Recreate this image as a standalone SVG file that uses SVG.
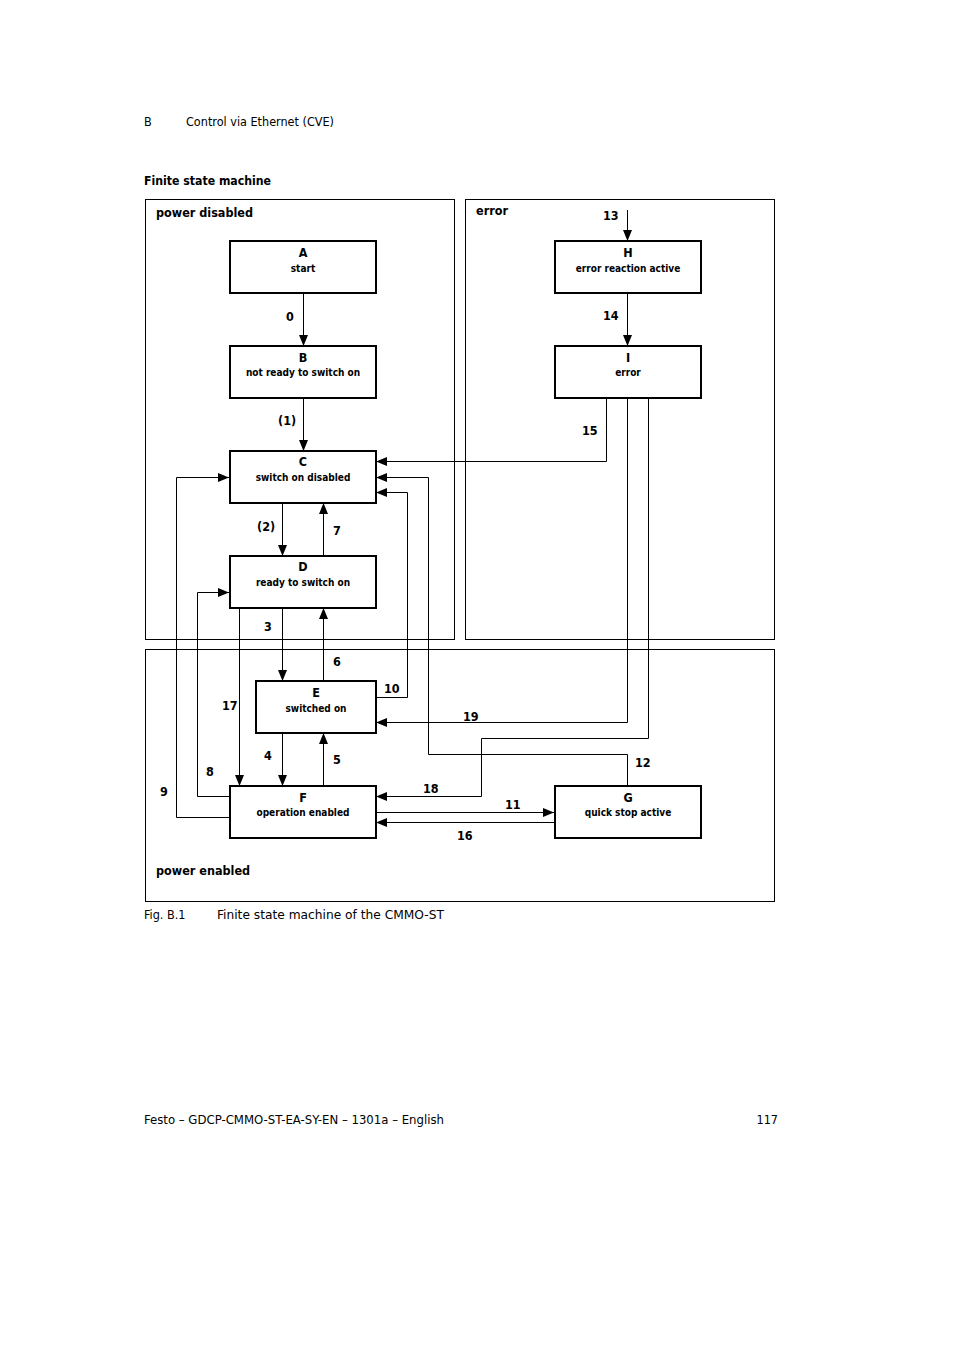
<svg xmlns="http://www.w3.org/2000/svg" width="954" height="1348" viewBox="0 0 954 1348">
<style>
text{font-family:"DejaVu Sans Condensed","Liberation Sans",sans-serif;fill:#000}
.h{font-size:12.5px}
.t{font-size:12.5px;font-weight:bold}
.l{font-size:12.5px;font-weight:bold}
.n{font-size:12.5px;font-weight:bold;text-anchor:middle}
.s{font-size:10px;font-weight:bold;text-anchor:middle}
.box{fill:#fff;stroke:#000;stroke-width:2}
.cont{fill:none;stroke:#000;stroke-width:1}
.c{fill:none;stroke:#000;stroke-width:1}
</style>
<defs>
<marker id="ar" markerUnits="userSpaceOnUse" markerWidth="12" markerHeight="10" refX="11" refY="5" orient="auto">
<path d="M0,0.5 L11,5 L0,9.5 Z" fill="#000"/>
</marker>
</defs>
<rect width="954" height="1348" fill="#fff"/>
<text class="h" x="144" y="126">B</text>
<text class="h" x="186" y="126" textLength="148" lengthAdjust="spacingAndGlyphs">Control via Ethernet (CVE)</text>
<text class="t" x="144" y="185" textLength="127" lengthAdjust="spacingAndGlyphs">Finite state machine</text>
<g id="containers">
<rect class="cont" x="145.5" y="199.5" width="309" height="440"/>
<rect class="cont" x="465.5" y="199.5" width="309" height="440"/>
<rect class="cont" x="145.5" y="649.5" width="629" height="252"/>
<text class="t" x="156" y="217">power disabled</text>
<text class="t" x="476" y="215">error</text>
<text class="t" x="156" y="875">power enabled</text>
</g>
<g id="connectors">
<path class="c" d="M303.5,293 V346" marker-end="url(#ar)"/>
<path class="c" d="M303.5,398 V451" marker-end="url(#ar)"/>
<path class="c" d="M282.5,503 V556" marker-end="url(#ar)"/>
<path class="c" d="M323.5,556 V503" marker-end="url(#ar)"/>
<path class="c" d="M282.5,608 V681" marker-end="url(#ar)"/>
<path class="c" d="M323.5,681 V608" marker-end="url(#ar)"/>
<path class="c" d="M282.5,733 V786" marker-end="url(#ar)"/>
<path class="c" d="M323.5,786 V733" marker-end="url(#ar)"/>
<path class="c" d="M239.5,608 V786" marker-end="url(#ar)"/>
<path class="c" d="M229,796.5 H197.5 V592.5 H229" marker-end="url(#ar)"/>
<path class="c" d="M229,817.5 H176.5 V477.5 H229" marker-end="url(#ar)"/>
<path class="c" d="M376,697.5 H407.5 V492.5 H376" marker-end="url(#ar)"/>
<path class="c" d="M627.5,786 V754.5 H428.5 V477.5 H376" marker-end="url(#ar)"/>
<path class="c" d="M606.5,398 V461.5 H376" marker-end="url(#ar)"/>
<path class="c" d="M627.5,398 V722.5 H376" marker-end="url(#ar)"/>
<path class="c" d="M648.5,398 V738.5 H481.5 V796.5 H376" marker-end="url(#ar)"/>
<path class="c" d="M376,812.5 H554" marker-end="url(#ar)"/>
<path class="c" d="M554,822.5 H376" marker-end="url(#ar)"/>
<path class="c" d="M627.5,210 V241" marker-end="url(#ar)"/>
<path class="c" d="M627.5,293 V346" marker-end="url(#ar)"/>
<text class="l" x="286" y="321">0</text>
<text class="l" x="278" y="425">(1)</text>
<text class="l" x="257" y="531">(2)</text>
<text class="l" x="333" y="535">7</text>
<text class="l" x="264" y="631">3</text>
<text class="l" x="333" y="666">6</text>
<text class="l" x="264" y="760">4</text>
<text class="l" x="333" y="764">5</text>
<text class="l" x="222" y="710">17</text>
<text class="l" x="206" y="776">8</text>
<text class="l" x="160" y="796">9</text>
<text class="l" x="384" y="693">10</text>
<text class="l" x="635" y="767">12</text>
<text class="l" x="582" y="435">15</text>
<text class="l" x="463" y="721">19</text>
<text class="l" x="423" y="793">18</text>
<text class="l" x="505" y="809">11</text>
<text class="l" x="457" y="840">16</text>
<text class="l" x="603" y="220">13</text>
<text class="l" x="603" y="320">14</text>
</g>
<g id="A"><rect class="box" x="230" y="241" width="146" height="52"/><text class="n" x="303" y="257">A</text><text class="s" x="303" y="272">start</text></g>
<g id="B"><rect class="box" x="230" y="346" width="146" height="52"/><text class="n" x="303" y="362">B</text><text class="s" x="303" y="376">not ready to switch on</text></g>
<g id="C"><rect class="box" x="230" y="451" width="146" height="52"/><text class="n" x="303" y="466">C</text><text class="s" x="303" y="481">switch on disabled</text></g>
<g id="D"><rect class="box" x="230" y="556" width="146" height="52"/><text class="n" x="303" y="571">D</text><text class="s" x="303" y="586">ready to switch on</text></g>
<g id="E"><rect class="box" x="256" y="681" width="120" height="52"/><text class="n" x="316" y="697">E</text><text class="s" x="316" y="712">switched on</text></g>
<g id="F"><rect class="box" x="230" y="786" width="146" height="52"/><text class="n" x="303" y="802">F</text><text class="s" x="303" y="816">operation enabled</text></g>
<g id="G"><rect class="box" x="555" y="786" width="146" height="52"/><text class="n" x="628" y="802">G</text><text class="s" x="628" y="816">quick stop active</text></g>
<g id="H"><rect class="box" x="555" y="241" width="146" height="52"/><text class="n" x="628" y="257">H</text><text class="s" x="628" y="272">error reaction active</text></g>
<g id="I"><rect class="box" x="555" y="346" width="146" height="52"/><text class="n" x="628" y="362">I</text><text class="s" x="628" y="376">error</text></g>
<text class="h" x="144" y="919">Fig. B.1</text>
<text class="h" x="217" y="919" textLength="227" lengthAdjust="spacingAndGlyphs">Finite state machine of the CMMO-ST</text>
<text class="h" x="144" y="1124" textLength="300" lengthAdjust="spacingAndGlyphs">Festo – GDCP-CMMO-ST-EA-SY-EN – 1301a – English</text>
<text class="h" x="778" y="1124" text-anchor="end">117</text>
</svg>
